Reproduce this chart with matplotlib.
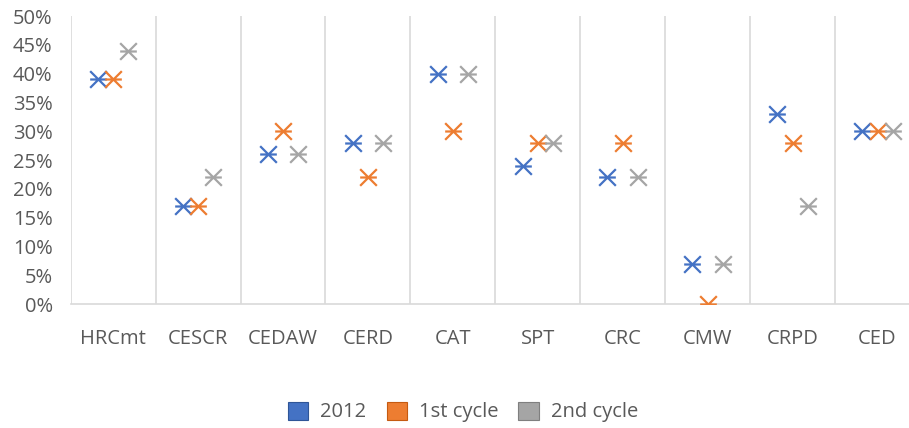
import numpy as np
import matplotlib
matplotlib.use('Agg')
import matplotlib.pyplot as plt
from matplotlib.path import Path
from matplotlib.patches import Patch
from matplotlib.ticker import PercentFormatter, FixedLocator

# Data
categories = ['HRCmt', 'CESCR', 'CEDAW', 'CERD', 'CAT', 'SPT', 'CRC', 'CMW', 'CRPD', 'CED']
series_names = ['2012', '1st cycle', '2nd cycle']
vals_2012 = [0.39, 0.17, 0.26, 0.28, 0.40, 0.24, 0.22, 0.07, 0.33, 0.30]
vals_1st = [0.39, 0.17, 0.30, 0.22, 0.30, 0.28, 0.28, 0.00, 0.28, 0.30]
vals_2nd = [0.44, 0.22, 0.26, 0.28, 0.40, 0.28, 0.22, 0.07, 0.17, 0.30]
colors = ['#4472C4', '#ED7D31', '#A5A5A5']
edge_colors = ['#2F5597', '#C55A11', '#7F7F7F']

plt.rcParams['font.family'] = ['Open Sans', 'DejaVu Sans']
text_col = '#595959'
grid_col = '#D9D9D9'

# Excel-like star marker: X with a horizontal bar
star = Path([(-1, -1), (1, 1), (-1, 1), (1, -1), (-1, 0), (1, 0)],
            [Path.MOVETO, Path.LINETO, Path.MOVETO, Path.LINETO, Path.MOVETO, Path.LINETO])

fig = plt.figure(figsize=(9.09, 4.28), dpi=100)
ax = fig.add_axes([70.7 / 909, (428 - 304) / 428, (920 - 70.7) / 909, (304 - 16) / 428])

x = np.arange(1, len(categories) + 1)
offsets = [-0.18, 0.0, 0.18]
for vals, off, c in zip([vals_2012, vals_1st, vals_2nd], offsets, colors):
    ax.plot(x + off, vals, linestyle='none', marker=star, markersize=12,
            markeredgewidth=1.6, markeredgecolor=c, markerfacecolor='none', zorder=3)

ax.set_xlim(0.5, len(categories) + 0.5)
ax.set_ylim(0, 0.5)
ax.set_xticks(x)
ax.set_xticklabels(categories)
ax.xaxis.set_minor_locator(FixedLocator(np.arange(0.5, len(categories) + 1, 1)))
ax.set_yticks(np.arange(0, 0.51, 0.05))
ax.yaxis.set_major_formatter(PercentFormatter(1.0, decimals=0))
ax.tick_params(axis='both', which='both', length=0, labelsize=14.5, labelcolor=text_col)
ax.tick_params(axis='y', pad=13)
ax.tick_params(axis='x', pad=18)
ax.grid(False)
ax.grid(True, which='minor', axis='x', color=grid_col, linewidth=1.2)
for s in ['top', 'right', 'left']:
    ax.spines[s].set_visible(False)
ax.spines['bottom'].set_color(grid_col)
ax.spines['bottom'].set_linewidth(1.2)
ax.set_axisbelow(True)

handles = [Patch(facecolor=c, edgecolor=e, linewidth=0.8) for c, e in zip(colors, edge_colors)]
fig.legend(handles, series_names, loc='center', bbox_to_anchor=(463 / 909, 1 - 412 / 428),
           ncol=3, frameon=False, fontsize=14.5, labelcolor=text_col,
           handlelength=1.0, handleheight=1.0, handletextpad=0.6, columnspacing=1.0)

fig.savefig('out.png', dpi=100)
